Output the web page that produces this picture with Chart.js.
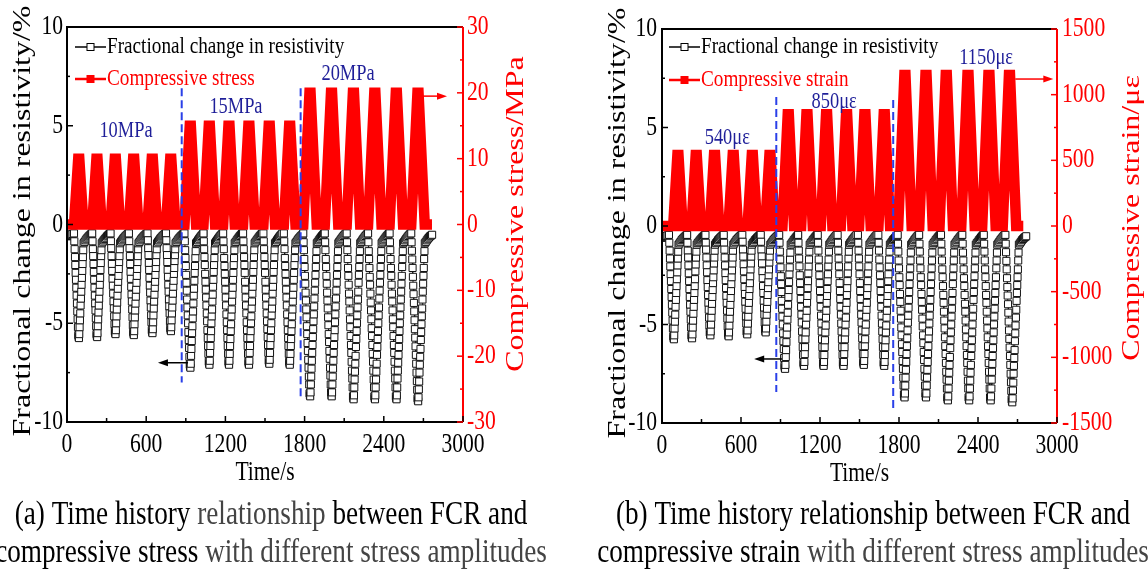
<!DOCTYPE html>
<html>
<head>
<meta charset="utf-8">
<title>FCR time history</title>
<script src="https://cdn.jsdelivr.net/npm/chart.js@4.4.1/dist/chart.umd.min.js"></script>
<style>
  body { margin: 0; background: #fff; }
  #wrap { position: relative; width: 1148px; height: 570px; overflow: hidden; }
  canvas { position: absolute; top: 0; }
</style>
</head>
<body>
<div id="wrap">
  <canvas id="chartA" width="574" height="570" style="left:0"></canvas>
  <canvas id="chartB" width="574" height="570" style="left:574px"></canvas>
</div>
<script>
// ---- axes ----
const timeTicks = [0, 600, 1200, 1800, 2400, 3000];
const timeMinor = [300, 900, 1500, 2100, 2700];
const fcrTicks = [-10, -5, 0, 5, 10];
const fcrMinor = [-7.5, -2.5, 2.5, 7.5];
const stressTicks = [-30, -20, -10, 0, 10, 20, 30];
const stressMinor = [-25, -15, -5, 5, 15, 25];
const strainTicks = [-1500, -1000, -500, 0, 500, 1000, 1500];
const strainMinor = [-1250, -750, -250, 250, 750, 1250];

// ---- loading history, (a) stress in MPa ----
const stressTimeA = [2,
  53, 85, 93, 125, 191, 223, 231, 263, 330, 362, 370, 402,
  469, 501, 509, 541, 610, 642, 650, 682, 750, 782, 790, 822,
  890, 930, 938, 978, 1034, 1074, 1082, 1122, 1183, 1223, 1231, 1271,
  1334, 1374, 1382, 1422, 1488, 1528, 1536, 1576, 1643, 1683, 1691, 1731,
  1790, 1837, 1845, 1892, 1953, 2000, 2008, 2055, 2119, 2166, 2174, 2221,
  2281, 2328, 2336, 2383, 2444, 2491, 2499, 2546, 2608, 2655, 2663, 2710,
  2765];
const stressValueA = [0,
  0, 10, 10, 0, 0, 10, 10, 0, 0, 10, 10, 0,
  0, 10, 10, 0, 0, 10, 10, 0, 0, 10, 10, 0,
  0, 15, 15, 0, 0, 15, 15, 0, 0, 15, 15, 0,
  0, 15, 15, 0, 0, 15, 15, 0, 0, 15, 15, 0,
  0, 20, 20, 0, 0, 20, 20, 0, 0, 20, 20, 0,
  0, 20, 20, 0, 0, 20, 20, 0, 0, 20, 20, 0,
  0];

// ---- loading history, (b) strain in microstrain ----
const strainTimeB = [2,
  85, 117, 125, 157, 224, 256, 264, 296, 363, 395, 403, 435,
  505, 537, 545, 577, 650, 682, 690, 722, 784, 816, 824, 856,
  915, 955, 963, 1003, 1057, 1097, 1105, 1145, 1206, 1246, 1254, 1294,
  1358, 1398, 1406, 1446, 1497, 1537, 1545, 1585, 1644, 1684, 1692, 1732,
  1794, 1841, 1849, 1896, 1954, 2001, 2009, 2056, 2108, 2155, 2163, 2210,
  2273, 2320, 2328, 2375, 2432, 2479, 2487, 2534, 2588, 2635, 2643, 2690,
  2744];
const strainValueB = [0,
  0, 540, 540, 0, 0, 540, 540, 0, 0, 540, 540, 0,
  0, 540, 540, 0, 0, 540, 540, 0, 0, 540, 540, 0,
  0, 850, 850, 0, 0, 850, 850, 0, 0, 850, 850, 0,
  0, 850, 850, 0, 0, 850, 850, 0, 0, 850, 850, 0,
  0, 1150, 1150, 0, 0, 1150, 1150, 0, 0, 1150, 1150, 0,
  0, 1150, 1150, 0, 0, 1150, 1150, 0, 0, 1150, 1150, 0,
  0];

// ---- fractional change in resistivity (%) ----
// readings before the first cycle
const fcrLeadTime = [2, 10, 18, 26, 34, 42];
const fcrLeadValue = [-0.6, -0.58, -0.55, -0.52, -0.5, -0.48];
// start of each load cycle (s)
const fcrCycleStart = [53, 191, 330, 469, 610, 750,
  890, 1034, 1183, 1334, 1488, 1643,
  1790, 1953, 2119, 2281, 2444, 2608];
// sample times inside a cycle (s after cycle start), one row per amplitude
const phase1 = [0, 2.5, 5, 7.5, 10, 12.5, 15, 17.5, 20, 22.5, 25, 27.5, 30, 32.5, 35, 37.5,
  40, 42.5, 45, 47.5, 50, 52.5, 55, 57.5, 60, 62.5, 65, 67.5, 70, 72.5,
  80, 88, 96, 104, 112, 120, 128, 135];
const phase2 = [0, 2.5, 5, 7.5, 10, 12.5, 15, 17.5, 20, 22.5, 25, 27.5, 30, 32.5, 35, 37.5, 40, 42.5, 45,
  47.5, 50, 52.5, 55, 57.5, 60, 62.5, 65, 67.5, 70, 72.5, 75, 77.5, 80, 82.5, 85, 87.5,
  95, 103, 111, 119, 127, 135, 143];
const phase3 = [0, 2.5, 5, 7.5, 10, 12.5, 15, 17.5, 20, 22.5, 25, 27.5, 30, 32.5, 35, 37.5, 40, 42.5, 45, 47.5, 50, 52.5,
  55, 57.5, 60, 62.5, 65, 67.5, 70, 72.5, 75, 77.5, 80, 82.5, 85, 87.5, 90, 92.5, 95, 97.5, 100, 102.5,
  110, 118, 126, 134, 142, 150, 158];

const fcrGroup1 = [
  [-0.45,-0.85,-1.25,-1.65,-2.05,-2.45,-2.8,-3.2,-3.6,-4.0,-4.4,-4.8,-5.2,-5.6,-5.7,-5.75,
   -5.55,-5.2,-4.85,-4.5,-4.1,-3.75,-3.4,-3.05,-2.7,-2.35,-2.0,-1.65,-1.3,-0.95,
   -0.88,-0.8,-0.72,-0.66,-0.6,-0.55,-0.5,-0.46],
  [-0.45,-0.85,-1.25,-1.6,-2.0,-2.4,-2.8,-3.2,-3.6,-4.0,-4.35,-4.75,-5.15,-5.55,-5.65,-5.7,
   -5.5,-5.15,-4.8,-4.45,-4.1,-3.75,-3.4,-3.05,-2.7,-2.3,-1.95,-1.6,-1.3,-0.95,
   -0.87,-0.8,-0.73,-0.67,-0.6,-0.55,-0.5,-0.46],
  [-0.45,-0.85,-1.2,-1.6,-2.0,-2.35,-2.75,-3.1,-3.5,-3.9,-4.25,-4.65,-5.05,-5.4,-5.5,-5.55,
   -5.35,-5.0,-4.65,-4.3,-3.95,-3.6,-3.25,-2.9,-2.6,-2.25,-1.9,-1.6,-1.25,-0.95,
   -0.87,-0.8,-0.72,-0.66,-0.6,-0.55,-0.5,-0.46],
  [-0.45,-0.85,-1.2,-1.6,-2.0,-2.4,-2.75,-3.15,-3.55,-3.9,-4.3,-4.7,-5.1,-5.45,-5.55,-5.6,
   -5.4,-5.05,-4.7,-4.35,-4.0,-3.65,-3.3,-2.95,-2.6,-2.25,-1.9,-1.6,-1.25,-0.95,
   -0.88,-0.8,-0.72,-0.66,-0.6,-0.55,-0.5,-0.46],
  [-0.45,-0.8,-1.2,-1.55,-1.95,-2.3,-2.7,-3.1,-3.45,-3.85,-4.2,-4.6,-4.95,-5.35,-5.45,-5.5,
   -5.3,-4.95,-4.6,-4.25,-3.9,-3.55,-3.2,-2.9,-2.55,-2.2,-1.9,-1.55,-1.25,-0.95,
   -0.87,-0.8,-0.72,-0.66,-0.6,-0.55,-0.5,-0.46],
  [-0.45,-0.8,-1.2,-1.55,-1.9,-2.3,-2.65,-3.05,-3.4,-3.8,-4.15,-4.5,-4.9,-5.25,-5.35,-5.4,
   -5.2,-4.85,-4.5,-4.2,-3.85,-3.5,-3.15,-2.85,-2.5,-2.2,-1.85,-1.55,-1.25,-0.95,
   -0.88,-0.8,-0.72,-0.66,-0.6,-0.55,-0.5,-0.46]
];
const fcrGroup2 = [
  [-0.45,-0.85,-1.3,-1.7,-2.1,-2.55,-2.95,-3.35,-3.8,-4.2,-4.6,-5.0,-5.45,-5.85,-6.25,-6.7,-7.1,-7.2,-7.25,
   -7.05,-6.65,-6.3,-5.9,-5.5,-5.15,-4.75,-4.4,-4.0,-3.6,-3.25,-2.85,-2.45,-2.1,-1.7,-1.35,-0.95,
   -0.88,-0.8,-0.72,-0.65,-0.58,-0.52,-0.46],
  [-0.45,-0.85,-1.25,-1.65,-2.05,-2.5,-2.9,-3.3,-3.7,-4.1,-4.5,-4.9,-5.35,-5.75,-6.15,-6.55,-6.95,-7.05,-7.1,
   -6.9,-6.5,-6.15,-5.75,-5.4,-5.0,-4.65,-4.3,-3.9,-3.55,-3.15,-2.8,-2.4,-2.05,-1.7,-1.3,-0.95,
   -0.87,-0.8,-0.72,-0.65,-0.58,-0.52,-0.46],
  [-0.45,-0.85,-1.25,-1.7,-2.1,-2.5,-2.9,-3.3,-3.7,-4.1,-4.55,-4.95,-5.35,-5.75,-6.15,-6.55,-6.95,-7.05,-7.1,
   -6.9,-6.55,-6.15,-5.8,-5.4,-5.05,-4.65,-4.3,-3.9,-3.55,-3.2,-2.8,-2.45,-2.05,-1.7,-1.3,-0.95,
   -0.88,-0.8,-0.72,-0.65,-0.58,-0.52,-0.46],
  [-0.45,-0.85,-1.25,-1.65,-2.05,-2.45,-2.9,-3.3,-3.7,-4.1,-4.5,-4.95,-5.35,-5.75,-6.15,-6.55,-6.95,-7.05,-7.1,
   -6.9,-6.5,-6.15,-5.75,-5.4,-5.0,-4.65,-4.25,-3.9,-3.5,-3.15,-2.8,-2.4,-2.05,-1.65,-1.3,-0.95,
   -0.87,-0.8,-0.72,-0.65,-0.58,-0.52,-0.46],
  [-0.45,-0.85,-1.25,-1.65,-2.05,-2.45,-2.9,-3.3,-3.7,-4.1,-4.5,-4.9,-5.3,-5.7,-6.1,-6.5,-6.9,-7.0,-7.05,
   -6.85,-6.5,-6.1,-5.75,-5.35,-5.0,-4.6,-4.25,-3.9,-3.5,-3.15,-2.8,-2.4,-2.05,-1.65,-1.3,-0.95,
   -0.88,-0.8,-0.72,-0.65,-0.58,-0.52,-0.46],
  [-0.45,-0.85,-1.25,-1.7,-2.1,-2.5,-2.9,-3.3,-3.7,-4.1,-4.55,-4.95,-5.35,-5.75,-6.15,-6.55,-6.95,-7.05,-7.1,
   -6.9,-6.55,-6.15,-5.8,-5.4,-5.05,-4.65,-4.3,-3.9,-3.55,-3.2,-2.8,-2.45,-2.05,-1.7,-1.3,-0.95,
   -0.88,-0.8,-0.72,-0.66,-0.6,-0.55,-0.5]
];
const fcrGroup3 = [
  [-0.45,-0.9,-1.3,-1.75,-2.15,-2.6,-3.0,-3.45,-3.85,-4.3,-4.7,-5.15,-5.55,-6.0,-6.4,-6.85,-7.25,-7.7,-8.1,-8.55,-8.65,-8.7,
   -8.5,-8.1,-7.7,-7.3,-6.9,-6.5,-6.1,-5.7,-5.3,-4.9,-4.55,-4.15,-3.75,-3.35,-2.95,-2.55,-2.15,-1.75,-1.35,-0.95,
   -0.88,-0.8,-0.72,-0.65,-0.58,-0.52,-0.46],
  [-0.45,-0.9,-1.3,-1.75,-2.15,-2.6,-3.0,-3.45,-3.85,-4.25,-4.7,-5.1,-5.55,-5.95,-6.4,-6.8,-7.25,-7.65,-8.1,-8.5,-8.65,-8.7,
   -8.5,-8.1,-7.7,-7.3,-6.9,-6.5,-6.1,-5.7,-5.35,-4.95,-4.55,-4.15,-3.75,-3.35,-2.95,-2.55,-2.15,-1.75,-1.35,-0.95,
   -0.87,-0.8,-0.72,-0.65,-0.58,-0.52,-0.46],
  [-0.45,-0.9,-1.3,-1.75,-2.2,-2.6,-3.05,-3.5,-3.9,-4.35,-4.8,-5.2,-5.65,-6.1,-6.5,-6.95,-7.4,-7.8,-8.25,-8.7,-8.8,-8.85,
   -8.65,-8.25,-7.85,-7.45,-7.05,-6.65,-6.2,-5.8,-5.4,-5.0,-4.6,-4.2,-3.8,-3.4,-2.95,-2.55,-2.15,-1.75,-1.35,-0.95,
   -0.88,-0.8,-0.72,-0.65,-0.58,-0.52,-0.46],
  [-0.45,-0.9,-1.35,-1.75,-2.2,-2.65,-3.05,-3.5,-3.95,-4.35,-4.8,-5.25,-5.65,-6.1,-6.55,-6.95,-7.4,-7.85,-8.25,-8.7,-8.8,-8.85,
   -8.65,-8.25,-7.85,-7.45,-7.05,-6.6,-6.2,-5.8,-5.4,-5.0,-4.6,-4.2,-3.75,-3.35,-2.95,-2.55,-2.15,-1.75,-1.35,-0.95,
   -0.87,-0.8,-0.72,-0.65,-0.58,-0.52,-0.46],
  [-0.45,-0.9,-1.3,-1.75,-2.2,-2.6,-3.05,-3.5,-3.9,-4.35,-4.8,-5.2,-5.65,-6.1,-6.5,-6.95,-7.4,-7.8,-8.25,-8.7,-8.8,-8.85,
   -8.65,-8.25,-7.8,-7.4,-7.0,-6.6,-6.2,-5.8,-5.4,-5.0,-4.6,-4.2,-3.8,-3.4,-3.0,-2.6,-2.15,-1.75,-1.35,-0.95,
   -0.88,-0.8,-0.72,-0.65,-0.58,-0.52,-0.46],
  [-0.45,-0.9,-1.33,-1.77,-2.2,-2.65,-3.1,-3.53,-3.97,-4.4,-4.85,-5.3,-5.73,-6.17,-6.6,-7.05,-7.5,-7.93,-8.37,-8.8,-8.9,-8.95,
   -8.75,-8.35,-7.95,-7.5,-7.1,-6.7,-6.3,-5.85,-5.45,-5.05,-4.65,-4.25,-3.8,-3.4,-3.0,-2.6,-2.2,-1.75,-1.35,-0.95,
   -0.88,-0.8,-0.72,-0.66,-0.6,-0.56,-0.52]
];

const SERIF = '"Liberation Serif", "Times New Roman", serif';
const SQUEEZE = 0.8;
const RED = '#ff0000';
const NAVY = '#1f1f99';
const GREY = '#444';

function fcrPoints() {
  const pts = fcrLeadTime.map((t, i) => ({ x: t, y: fcrLeadValue[i] }));
  const groups = [fcrGroup1, fcrGroup2, fcrGroup3];
  const phases = [phase1, phase2, phase3];
  let k = 0;
  groups.forEach((cycles, g) => {
    cycles.forEach(vals => {
      vals.forEach((v, j) => pts.push({ x: fcrCycleStart[k] + phases[g][j], y: v }));
      k++;
    });
  });
  return pts;
}

// text is drawn narrow, Times-like
function flatText(ctx, text, x, y, size, color, align, baseline) {
  ctx.save();
  ctx.font = size + 'px ' + SERIF;
  ctx.fillStyle = color;
  ctx.textAlign = align || 'left';
  ctx.textBaseline = baseline || 'alphabetic';
  ctx.translate(x, y);
  ctx.scale(SQUEEZE, 1);
  ctx.fillText(text, 0, 0);
  ctx.restore();
}

function upText(ctx, text, x, y, size, color) {
  ctx.save();
  ctx.font = size + 'px ' + SERIF;
  ctx.fillStyle = color;
  ctx.textAlign = 'center';
  ctx.textBaseline = 'alphabetic';
  ctx.translate(x, y);
  ctx.rotate(-Math.PI / 2);
  ctx.scale(1, SQUEEZE);
  ctx.fillText(text, 0, 0);
  ctx.restore();
}

function captionLine(ctx, parts, cx, y, size) {
  ctx.save();
  ctx.font = size + 'px ' + SERIF;
  const widths = parts.map(p => ctx.measureText(p[0]).width * SQUEEZE);
  ctx.restore();
  let x = cx - widths.reduce((s, w) => s + w, 0) / 2;
  parts.forEach((p, i) => {
    flatText(ctx, p[0], x, y, size, p[1], 'left');
    x += widths[i];
  });
}

function arrow(ctx, x0, x1, y, color) {
  const dir = Math.sign(x1 - x0);
  ctx.save();
  ctx.strokeStyle = color;
  ctx.fillStyle = color;
  ctx.lineWidth = 1.5;
  ctx.beginPath();
  ctx.moveTo(x0, y);
  ctx.lineTo(x1 - dir * 8, y);
  ctx.stroke();
  ctx.beginPath();
  ctx.moveTo(x1, y);
  ctx.lineTo(x1 - dir * 10, y - 3.5);
  ctx.lineTo(x1 - dir * 10, y + 3.5);
  ctx.closePath();
  ctx.fill();
  ctx.restore();
}

function tickMarks(ctx, scale, values, len, color, side, area) {
  ctx.strokeStyle = color;
  ctx.lineWidth = 1.5;
  values.forEach(v => {
    const p = scale.getPixelForValue(v);
    ctx.beginPath();
    if (side === 'bottom') { ctx.moveTo(p, area.bottom); ctx.lineTo(p, area.bottom - len); }
    if (side === 'left') { ctx.moveTo(area.left, p); ctx.lineTo(area.left + len, p); }
    if (side === 'right') { ctx.moveTo(area.right, p); ctx.lineTo(area.right - len, p); }
    ctx.stroke();
  });
}

function panelPlugin(p) {
  return {
    id: 'panel_' + p.canvas,
    afterDatasetsDraw(chart) {
      const ctx = chart.ctx;
      const a = chart.chartArea;
      const x = chart.scales.x, y = chart.scales.y, y2 = chart.scales.y2;
      ctx.save();

      // dashed boundaries between amplitude levels
      ctx.strokeStyle = '#2a40e8';
      ctx.lineWidth = 2;
      ctx.setLineDash([8, 4]);
      p.boundTime.forEach((t, i) => {
        const px = x.getPixelForValue(t);
        ctx.beginPath();
        ctx.moveTo(px, y.getPixelForValue(p.boundTop[i]));
        ctx.lineTo(px, y.getPixelForValue(p.boundBottom[i]));
        ctx.stroke();
      });
      ctx.setLineDash([]);

      // arrows telling which axis each curve uses
      arrow(ctx, x.getPixelForValue(p.leftArrow[0]), x.getPixelForValue(p.leftArrow[1]),
        y.getPixelForValue(p.leftArrow[2]), '#000');
      arrow(ctx, x.getPixelForValue(p.rightArrow[0]), x.getPixelForValue(p.rightArrow[1]),
        y2.getPixelForValue(p.rightArrow[2]), RED);

      // frame
      ctx.lineWidth = 2;
      ctx.strokeStyle = '#000';
      ctx.beginPath();
      ctx.moveTo(a.right, a.top);
      ctx.lineTo(a.left, a.top);
      ctx.lineTo(a.left, a.bottom);
      ctx.lineTo(a.right, a.bottom);
      ctx.stroke();
      ctx.strokeStyle = RED;
      ctx.beginPath();
      ctx.moveTo(a.right, a.top);
      ctx.lineTo(a.right, a.bottom);
      ctx.stroke();

      tickMarks(ctx, x, timeTicks, 6, '#000', 'bottom', a);
      tickMarks(ctx, x, timeMinor, 4, '#000', 'bottom', a);
      tickMarks(ctx, y, fcrTicks, 6, '#000', 'left', a);
      tickMarks(ctx, y, fcrMinor, 3, '#000', 'left', a);
      tickMarks(ctx, y2, p.rightTicks, 6, RED, 'right', a);
      tickMarks(ctx, y2, p.rightMinor, 3, RED, 'right', a);

      // legend
      const lx = a.left + p.legendDx;
      const r1 = a.top + p.legendRow[0], r2 = a.top + p.legendRow[1];
      ctx.strokeStyle = '#000';
      ctx.lineWidth = 1.5;
      ctx.beginPath(); ctx.moveTo(lx, r1); ctx.lineTo(lx + 31, r1); ctx.stroke();
      ctx.fillStyle = '#fff';
      ctx.fillRect(lx + 12, r1 - 3.5, 7, 7);
      ctx.lineWidth = 1;
      ctx.strokeRect(lx + 12, r1 - 3.5, 7, 7);
      ctx.strokeStyle = RED;
      ctx.lineWidth = 2.5;
      ctx.beginPath(); ctx.moveTo(lx, r2); ctx.lineTo(lx + 31, r2); ctx.stroke();
      ctx.fillStyle = RED;
      ctx.fillRect(lx + 11.5, r2 - 4, 8, 8);
      flatText(ctx, 'Fractional change in resistivity', lx + 32, r1, 24, '#000', 'left', 'middle');
      flatText(ctx, p.legendRed, lx + 32, r2, 24, RED, 'left', 'middle');

      // amplitude labels
      p.ampText.forEach((s, i) => {
        flatText(ctx, s, x.getPixelForValue(p.ampTime[i]), y.getPixelForValue(p.ampLevel[i]),
          23, NAVY, 'center', 'alphabetic');
      });
      ctx.restore();
    },
    afterDraw(chart) {
      const ctx = chart.ctx;
      const a = chart.chartArea;
      const x = chart.scales.x, y = chart.scales.y, y2 = chart.scales.y2;

      timeTicks.forEach(v => flatText(ctx, String(v), x.getPixelForValue(v), a.bottom + 30, 27, '#000', 'center'));
      fcrTicks.forEach(v => flatText(ctx, String(v), a.left - p.labelGap, y.getPixelForValue(v), 27, '#000', 'right', 'middle'));
      p.rightTicks.forEach(v => flatText(ctx, String(v), a.right + p.labelGap, y2.getPixelForValue(v), 27, RED, 'left', 'middle'));

      flatText(ctx, 'Time/s', (a.left + a.right) / 2, a.bottom + 58, 27, '#000', 'center');
      upText(ctx, 'Fractional change in resistivity/%', p.leftTitle[0], p.leftTitle[1], 32, '#000');
      upText(ctx, p.rightTitle, p.rightTitleAt[0], p.rightTitleAt[1], 32, RED);

      captionLine(ctx, p.caption[0], p.captionX, 524, 34);
      captionLine(ctx, p.caption[1], p.captionX, 562, 34);
    }
  };
}

function makePanel(p) {
  const ctx = document.getElementById(p.canvas).getContext('2d');
  return new Chart(ctx, {
    type: 'line',
    data: {
      datasets: [
        {
          label: 'Fractional change in resistivity',
          data: fcrPoints(),
          yAxisID: 'y',
          order: 1,
          borderColor: '#222',
          borderWidth: 1,
          pointStyle: 'rect',
          pointRadius: 5,
          pointBorderWidth: 1,
          pointBorderColor: '#111',
          pointBackgroundColor: '#fff',
          tension: 0
        },
        {
          label: p.legendRed,
          data: p.redTime.map((t, i) => ({ x: t, y: p.redValue[i] })),
          yAxisID: 'y2',
          order: 0,
          borderColor: RED,
          borderWidth: 10.5,
          borderJoinStyle: 'miter',
          pointRadius: 0,
          tension: 0
        }
      ]
    },
    options: {
      responsive: false,
      animation: false,
      events: [],
      layout: { padding: { top: p.frame.top, left: 0, right: 0, bottom: 0 } },
      plugins: { legend: { display: false }, tooltip: { enabled: false } },
      scales: {
        x: {
          type: 'linear', min: 0, max: 3000,
          grid: { display: false }, border: { display: false }, ticks: { display: false },
          afterFit: s => { s.height = p.frame.bottom; }
        },
        y: {
          position: 'left', min: -10, max: 10,
          grid: { display: false }, border: { display: false }, ticks: { display: false },
          afterFit: s => { s.width = p.frame.left; }
        },
        y2: {
          position: 'right', min: p.rightTicks[0], max: p.rightTicks[p.rightTicks.length - 1],
          grid: { display: false }, border: { display: false }, ticks: { display: false },
          afterFit: s => { s.width = p.frame.right; }
        }
      }
    },
    plugins: [panelPlugin(p)]
  });
}

makePanel({
  canvas: 'chartA',
  frame: { top: 27, left: 67, right: 111, bottom: 148 },
  redTime: stressTimeA, redValue: stressValueA,
  rightTicks: stressTicks, rightMinor: stressMinor,
  legendRed: 'Compressive stress',
  rightTitle: 'Compressive stress/MPa',
  leftTitle: [30, 221], rightTitleAt: [523, 214],
  labelGap: 4,
  legendDx: 8, legendRow: [20, 52],
  boundTime: [869, 1770], boundTop: [6.9, 6.9], boundBottom: [-8.0, -8.9],
  ampText: ['10MPa', '15MPa', '20MPa'], ampTime: [447, 1280, 2129], ampLevel: [4.43, 5.65, 7.32],
  leftArrow: [917, 689, -7.0], rightArrow: [2689, 2879, 19.5],
  captionX: 271,
  caption: [
    [['(a) Time history ', '#000'], ['relationship', GREY], [' between FCR and', '#000']],
    [['compressive stress ', '#000'], ['with different stress amplitudes', GREY]]
  ]
});

makePanel({
  canvas: 'chartB',
  frame: { top: 29, left: 88, right: 91, bottom: 147 },
  redTime: strainTimeB, redValue: strainValueB,
  rightTicks: strainTicks, rightMinor: strainMinor,
  legendRed: 'Compressive strain',
  rightTitle: 'Compressive strain/\u03bc\u03b5',
  leftTitle: [51, 223], rightTitleAt: [565, 218],
  labelGap: 5,
  legendDx: 7, legendRow: [18, 51],
  boundTime: [868, 1756], boundTop: [6.55, 6.4], boundBottom: [-8.43, -9.44],
  ampText: ['540\u03bc\u03b5', '850\u03bc\u03b5', '1150\u03bc\u03b5'], ampTime: [496, 1308, 2462], ampLevel: [4.16, 6.0, 8.2],
  leftArrow: [912, 700, -6.75], rightArrow: [2683, 2972, 1119],
  captionX: 299,
  caption: [
    [['(b) Time history relationship between FCR and', '#000']],
    [['compressive strain ', '#000'], ['with different stress amplitudes', GREY]]
  ]
});
</script>
</body>
</html>
